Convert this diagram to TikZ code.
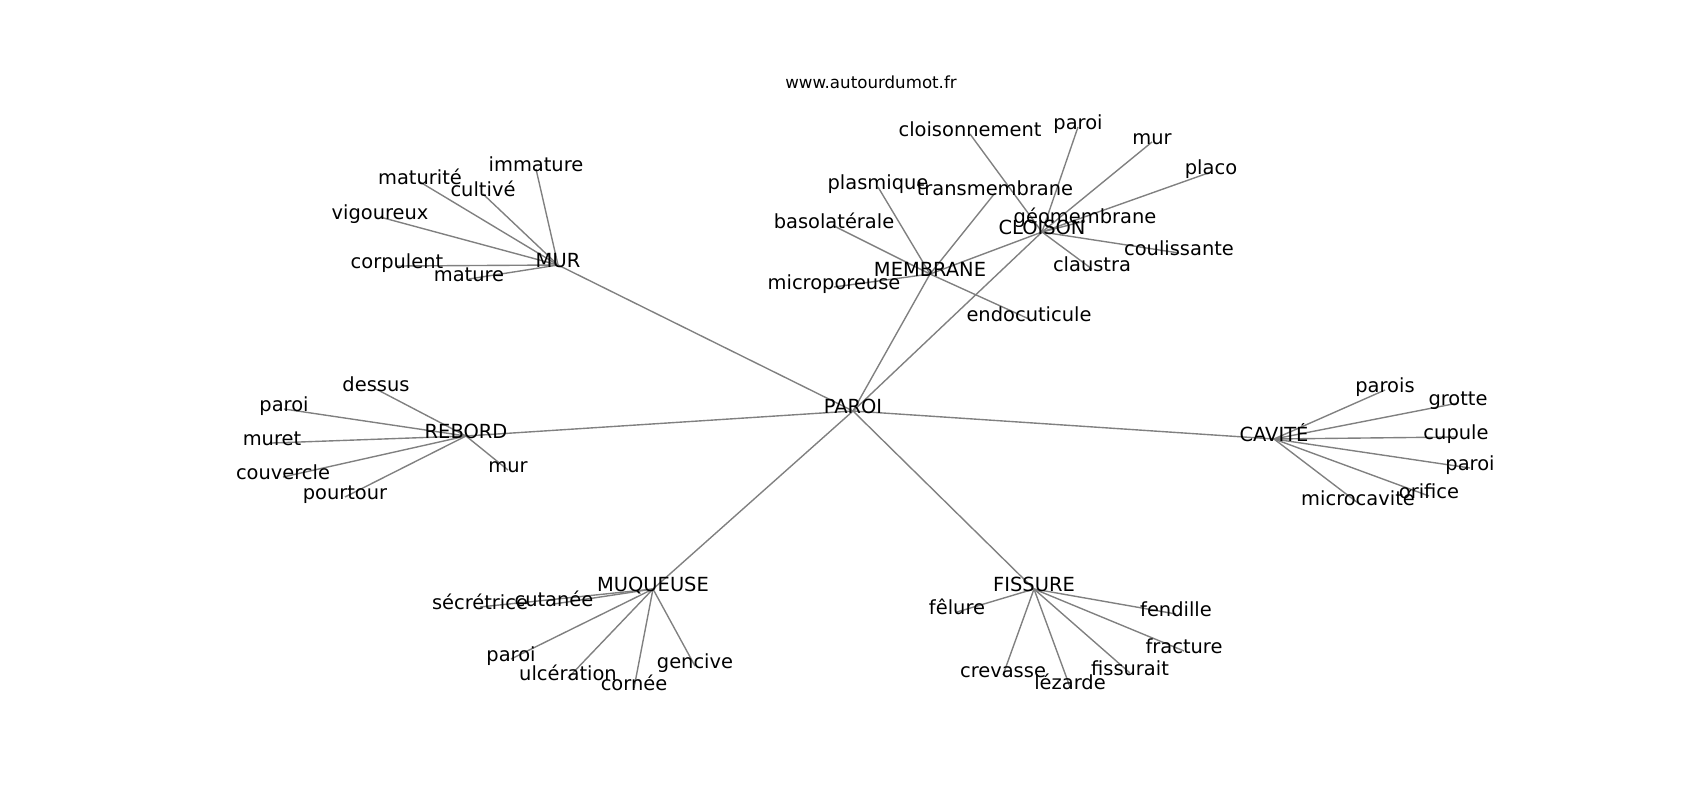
\documentclass[tikz,border=0pt]{standalone}
\usepackage{fontspec}
\setmainfont{DejaVu Sans}
\usetikzlibrary{backgrounds}
\begin{document}
\begin{tikzpicture}[x=0.72pt, y=-0.72pt,
  mot/.style={inner sep=0pt, text height=0.76em, text depth=0.44em, font=\fontsize{14}{16}\selectfont},
  lien/.style={draw=gray, line width=1pt}]
\useasboundingbox (0, 0) rectangle (1700, 800);
\node[inner sep=0pt, font=\fontsize{12}{14}\selectfont] (site) at (871, 82) {www.autourdumot.fr};
% centre et mots principaux
\node[mot] (PAROI) at (853, 411) {PAROI};
\node[mot] (MUR) at (558, 265) {MUR};
\node[mot] (MEMBRANE) at (930, 274) {MEMBRANE};
\node[mot] (CLOISON) at (1042, 232) {CLOISON};
\node[mot] (REBORD) at (466, 436) {REBORD};
\node[mot] (CAVITE) at (1274, 439) {CAVITÉ};
\node[mot] (MUQUEUSE) at (653, 589) {MUQUEUSE};
\node[mot] (FISSURE) at (1034, 589) {FISSURE};
% CLOISON
\node[mot] (cloisonnement) at (970, 134) {cloisonnement};
\node[mot] (paroiC) at (1078, 127) {paroi};
\node[mot] (murC) at (1152, 142) {mur};
\node[mot] (placo) at (1211, 172) {placo};
\node[mot] (geomembrane) at (1085, 221) {géomembrane};
\node[mot] (coulissante) at (1179, 253) {coulissante};
\node[mot] (claustra) at (1092, 269) {claustra};
% MEMBRANE
\node[mot] (plasmique) at (878, 187) {plasmique};
\node[mot] (transmembrane) at (995, 193) {transmembrane};
\node[mot] (basolaterale) at (834, 226) {basolatérale};
\node[mot] (microporeuse) at (834, 287) {microporeuse};
\node[mot] (endocuticule) at (1029, 319) {endocuticule};
% MUR
\node[mot] (immature) at (536, 169) {immature};
\node[mot] (maturite) at (420, 182) {maturité};
\node[mot] (cultive) at (483, 194) {cultivé};
\node[mot] (vigoureux) at (380, 217) {vigoureux};
\node[mot] (corpulent) at (397, 266) {corpulent};
\node[mot] (mature) at (469, 279) {mature};
% REBORD
\node[mot] (dessus) at (376, 389) {dessus};
\node[mot] (paroiR) at (284, 409) {paroi};
\node[mot] (muret) at (272, 443) {muret};
\node[mot] (couvercle) at (283, 477) {couvercle};
\node[mot] (murR) at (508, 470) {mur};
\node[mot] (pourtour) at (345, 497) {pourtour};
% CAVITE
\node[mot] (parois) at (1385, 390) {parois};
\node[mot] (grotte) at (1458, 403) {grotte};
\node[mot] (cupule) at (1456, 437) {cupule};
\node[mot] (paroiV) at (1470, 468) {paroi};
\node[mot] (orifice) at (1429, 496) {orifice};
\node[mot] (microcavite) at (1358, 503) {microcavité};
% MUQUEUSE
\node[mot] (secretrice) at (480, 607) {sécrétrice};
\node[mot] (cutanee) at (554, 604) {cutanée};
\node[mot] (paroiM) at (511, 659) {paroi};
\node[mot] (ulceration) at (568, 678) {ulcération};
\node[mot] (cornee) at (634, 688) {cornée};
\node[mot] (gencive) at (695, 666) {gencive};
% FISSURE
\node[mot] (felure) at (957, 612) {fêlure};
\node[mot] (crevasse) at (1003, 675) {crevasse};
\node[mot] (lezarde) at (1070, 687) {lézarde};
\node[mot] (fissurait) at (1130, 673) {fissurait};
\node[mot] (fracture) at (1184, 651) {fracture};
\node[mot] (fendille) at (1176, 614) {fendille};
\begin{pgfonlayer}{background}
\draw[lien] (PAROI.center) -- (MUR.center);
\draw[lien] (PAROI.center) -- (MEMBRANE.center);
\draw[lien] (PAROI.center) -- (CLOISON.center);
\draw[lien] (PAROI.center) -- (REBORD.center);
\draw[lien] (PAROI.center) -- (CAVITE.center);
\draw[lien] (PAROI.center) -- (MUQUEUSE.center);
\draw[lien] (PAROI.center) -- (FISSURE.center);
\draw[lien] (MEMBRANE.center) -- (CLOISON.center);
\draw[lien] (CLOISON.center) -- (cloisonnement.center);
\draw[lien] (CLOISON.center) -- (paroiC.center);
\draw[lien] (CLOISON.center) -- (murC.center);
\draw[lien] (CLOISON.center) -- (placo.center);
\draw[lien] (CLOISON.center) -- (geomembrane.center);
\draw[lien] (CLOISON.center) -- (coulissante.center);
\draw[lien] (CLOISON.center) -- (claustra.center);
\draw[lien] (MEMBRANE.center) -- (plasmique.center);
\draw[lien] (MEMBRANE.center) -- (transmembrane.center);
\draw[lien] (MEMBRANE.center) -- (basolaterale.center);
\draw[lien] (MEMBRANE.center) -- (microporeuse.center);
\draw[lien] (MEMBRANE.center) -- (endocuticule.center);
\draw[lien] (MUR.center) -- (immature.center);
\draw[lien] (MUR.center) -- (maturite.center);
\draw[lien] (MUR.center) -- (cultive.center);
\draw[lien] (MUR.center) -- (vigoureux.center);
\draw[lien] (MUR.center) -- (corpulent.center);
\draw[lien] (MUR.center) -- (mature.center);
\draw[lien] (REBORD.center) -- (dessus.center);
\draw[lien] (REBORD.center) -- (paroiR.center);
\draw[lien] (REBORD.center) -- (muret.center);
\draw[lien] (REBORD.center) -- (couvercle.center);
\draw[lien] (REBORD.center) -- (murR.center);
\draw[lien] (REBORD.center) -- (pourtour.center);
\draw[lien] (CAVITE.center) -- (parois.center);
\draw[lien] (CAVITE.center) -- (grotte.center);
\draw[lien] (CAVITE.center) -- (cupule.center);
\draw[lien] (CAVITE.center) -- (paroiV.center);
\draw[lien] (CAVITE.center) -- (orifice.center);
\draw[lien] (CAVITE.center) -- (microcavite.center);
\draw[lien] (MUQUEUSE.center) -- (secretrice.center);
\draw[lien] (MUQUEUSE.center) -- (cutanee.center);
\draw[lien] (MUQUEUSE.center) -- (paroiM.center);
\draw[lien] (MUQUEUSE.center) -- (ulceration.center);
\draw[lien] (MUQUEUSE.center) -- (cornee.center);
\draw[lien] (MUQUEUSE.center) -- (gencive.center);
\draw[lien] (FISSURE.center) -- (felure.center);
\draw[lien] (FISSURE.center) -- (crevasse.center);
\draw[lien] (FISSURE.center) -- (lezarde.center);
\draw[lien] (FISSURE.center) -- (fissurait.center);
\draw[lien] (FISSURE.center) -- (fracture.center);
\draw[lien] (FISSURE.center) -- (fendille.center);
\end{pgfonlayer}
\end{tikzpicture}
\end{document}
